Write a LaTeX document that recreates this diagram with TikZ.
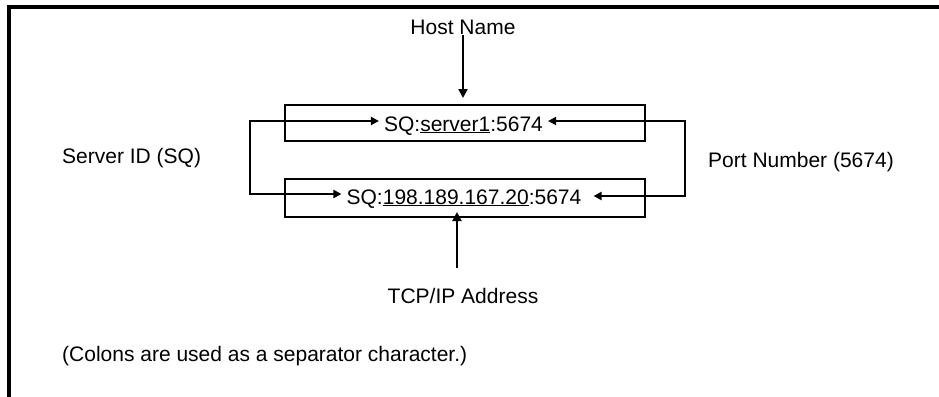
\documentclass[tikz,border=0pt]{standalone}
\usepackage{fontspec}
\setmainfont{Liberation Sans}
\usetikzlibrary{arrows.meta}
\usetikzlibrary{positioning}

\begin{document}
\begin{tikzpicture}[x=1pt, y=-1pt,
    every node/.style={font=\fontsize{21}{25}\selectfont, inner sep=0pt},
    strbox/.style={draw, line width=2.5pt, minimum width=360pt},
    pointer/.style={line width=2pt, -{Triangle[length=9pt, width=9pt]}},
    link/.style={line width=2pt, -{Triangle[length=8pt, width=8pt]}}]
    \useasboundingbox (0, 0) rectangle (939, 396);
    \draw [line width=4pt] (9, 400) -- (9, 7) -- (945, 7);

    \node [strbox, minimum height=36pt] (hostbox) at (465, 123) {};
    \node [strbox, minimum height=38pt] (ipbox) at (465, 198) {};
    \node [anchor=base, inner xsep=5pt] (hoststr) at (463.5, 131) {SQ:\underline{server1}:5674};
    \node [anchor=base, inner xsep=5pt] (ipstr) at (464, 204) {SQ:\underline{198.189.167.20}:5674};

    \node [anchor=base] (hostname) at (463, 35) {Host Name};
    \node [anchor=base] (tcpip) at (463, 303) {TCP/IP Address};
    \node [anchor=base west] (serverid) at (62, 163) {Server ID (SQ)};
    \node [anchor=base east] (portno) at (894, 167) {Port Number (5674)};
    \node [anchor=base west] (colons) at (62, 361) {(Colons are used as a separator character.)};

    \coordinate (hosttip) at (463, 98);
    \coordinate (ipfoot) at (457, 268);
    \coordinate (iptip) at (457, 212);
    \coordinate (sqside) at (250, 157);
    \coordinate (portside) at (685, 157);

    \draw [pointer] (hostname.south) -- (hosttip);
    \draw [pointer] (ipfoot) -- (iptip);
    \draw [link] (sqside) |- ([yshift=10pt]hoststr.base west);
    \draw [link] (sqside) |- ([yshift=10pt]ipstr.base west);
    \draw [link] (portside) |- ([yshift=10pt]hoststr.base east);
    \draw [link] (portside) |- ([xshift=7pt, yshift=8pt]ipstr.base east);
\end{tikzpicture}
\end{document}
